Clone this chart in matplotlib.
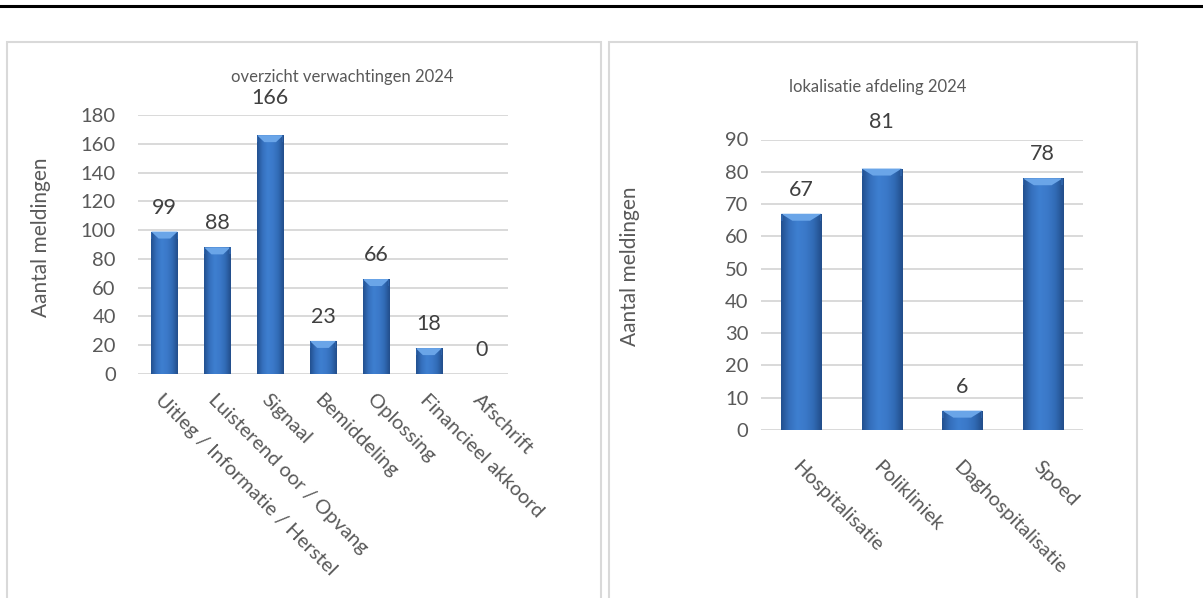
import numpy as np
import matplotlib.pyplot as plt
from matplotlib.colors import LinearSegmentedColormap
from matplotlib.patches import Polygon, Rectangle
from matplotlib.lines import Line2D

plt.rcParams['font.family'] = ['Lato', 'DejaVu Sans']

# overzicht verwachtingen
verwachting_labels = ['Uitleg / Informatie / Herstel', 'Luisterend oor / Opvang', 'Signaal',
                      'Bemiddeling', 'Oplossing', 'Financieel akkoord', 'Afschrift']
verwachting_counts = [99, 88, 166, 23, 66, 18, 0]
verwachting_ticks = [0, 20, 40, 60, 80, 100, 120, 140, 160, 180]

# lokalisatie afdeling
afdeling_labels = ['Hospitalisatie', 'Polikliniek', 'Daghospitalisatie', 'Spoed']
afdeling_counts = [67, 81, 6, 78]
afdeling_ticks = [0, 10, 20, 30, 40, 50, 60, 70, 80, 90]

W, H = 1203, 598
DPI = 100
GREY = '#595959'
GRID = '#d9d9d9'

bar_cmap = LinearSegmentedColormap.from_list(
    'bevel', ['#22508f', '#3570bd', '#3e7fd0', '#3b79c9', '#316bb5', '#224d8a'])


def px_box(x0, y0, x1, y1):
    """pixel box (top-left origin) -> figure fraction rect"""
    return [x0 / W, 1 - y1 / H, (x1 - x0) / W, (y1 - y0) / H]


def draw_bars(ax, labels, counts, ticks, tick_pad, label_pad):
    x = np.arange(len(labels))
    ax.set_xlim(-0.5, len(labels) - 0.5)
    ax.set_ylim(ticks[0], ticks[-1])
    ax.set_yticks(ticks)
    ax.yaxis.grid(True, color=GRID, lw=1.4, zorder=0)
    ax.set_axisbelow(True)
    for s in ax.spines.values():
        s.set_visible(False)
    ax.tick_params(axis='both', length=0, labelcolor=GREY, labelsize=14.5)
    ax.tick_params(axis='y', pad=tick_pad)
    ax.set_xticks(x)
    ax.set_xticklabels(labels, rotation=-45, ha='left', va='top',
                       rotation_mode='anchor', fontsize=14.5)
    ax.tick_params(axis='x', pad=label_pad)

    bars = ax.bar(x, counts, width=0.5, color='#3a76c4', lw=0, zorder=2)

    # size of one pixel in data units
    bb = ax.get_position()
    ypx = (ticks[-1] - ticks[0]) / (bb.height * H)
    grad = np.linspace(0, 1, 64).reshape(1, -1)
    for b, v in zip(bars, counts):
        if v <= 0:
            continue
        x0, w = b.get_x(), b.get_width()
        im = ax.imshow(grad, cmap=bar_cmap, aspect='auto', zorder=3,
                       extent=(x0, x0 + w, 0, v), interpolation='bicubic')
        im.set_clip_path(b)
        # bevel on top of the bar
        cap = min(7 * ypx, v)
        inset = w * 0.28
        ax.add_patch(Polygon([(x0, v), (x0 + w, v), (x0 + w - inset, v - cap), (x0 + inset, v - cap)],
                             closed=True, facecolor='#6aa5e8', edgecolor='none', zorder=4))
        ax.add_patch(Rectangle((x0, v - cap), 0.04 * w, cap, facecolor='#2d62a8',
                               edgecolor='none', zorder=4))
        ax.add_patch(Rectangle((x0 + 0.96 * w, v - cap), 0.04 * w, cap, facecolor='#2d62a8',
                               edgecolor='none', zorder=4))
    ax.set_xlim(-0.5, len(labels) - 0.5)
    ax.set_ylim(ticks[0], ticks[-1])

    # value labels; near the top they are lifted just above the top gridline
    for xi, v in zip(x, counts):
        gap = (ticks[-1] - v) / ypx
        off = 24 if gap >= 30 else gap + 17
        ax.annotate(str(v), (xi, v), xytext=(0, off * 72 / DPI), textcoords='offset points',
                    ha='center', va='center', fontsize=15.5, color='#404040', zorder=5)


fig = plt.figure(figsize=(W / DPI, H / DPI), dpi=DPI)

# black rule at the top of the page
fig.add_artist(Line2D([0, 1], [1 - 6 / H, 1 - 6 / H], color='black', lw=2.2))

# chart frames
for x0, x1 in [(7, 601), (609, 1137)]:
    fig.add_artist(Rectangle((x0 / W, -0.05), (x1 - x0) / W, 1.05 - 42 / H,
                             transform=fig.transFigure, facecolor='none',
                             edgecolor=GRID, lw=1.5))

ax1 = fig.add_axes(px_box(138, 115, 508, 374))
draw_bars(ax1, verwachting_labels, verwachting_counts, verwachting_ticks, 16, 12)
fig.text(342 / W, 1 - 77 / H, 'overzicht verwachtingen 2024', ha='center', va='center',
         fontsize=12, color=GREY)
fig.text(41 / W, 1 - 237 / H, 'Aantal meldingen', rotation=90, ha='center', va='center',
         fontsize=15, color=GREY)

ax2 = fig.add_axes(px_box(761, 139.5, 1083, 430))
draw_bars(ax2, afdeling_labels, afdeling_counts, afdeling_ticks, 9, 20)
fig.text(878 / W, 1 - 87 / H, 'lokalisatie afdeling 2024', ha='center', va='center',
         fontsize=12, color=GREY)
fig.text(630 / W, 1 - 266 / H, 'Aantal meldingen', rotation=90, ha='center', va='center',
         fontsize=15, color=GREY)

fig.savefig('out.png', dpi=DPI)
